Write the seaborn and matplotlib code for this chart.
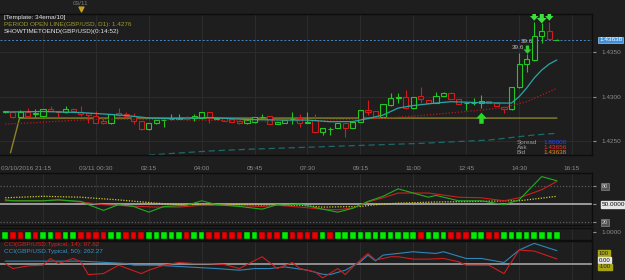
import numpy as np
import pandas as pd
import matplotlib
matplotlib.use("Agg")
import matplotlib.pyplot as plt
import matplotlib.transforms as mtrans
import seaborn as sns

# GBP/USD 15 min bars
bar_open = [
    1.42829, 1.42831, 1.42768, 1.42825, 1.42811, 1.42786, 1.42862, 1.42843, 1.42825, 1.42862,
    1.42831, 1.42813, 1.42786, 1.42727, 1.42701, 1.42813, 1.42806, 1.42786, 1.42730, 1.42637,
    1.42701, 1.42735, 1.42746, 1.42755, 1.42775, 1.42761, 1.42757, 1.42825, 1.42755, 1.42757,
    1.42746, 1.42730, 1.42701, 1.42712, 1.42768, 1.42786, 1.42690, 1.42708, 1.42749, 1.42757,
    1.42708, 1.42738, 1.42607, 1.42634, 1.42645, 1.42701, 1.42645, 1.42719, 1.42850, 1.42843,
    1.42768, 1.42907, 1.42991, 1.43000, 1.42870, 1.43008, 1.42963, 1.42926, 1.43008, 1.43038,
    1.42971, 1.42924, 1.42930, 1.42926, 1.42955, 1.42926, 1.42888, 1.42858, 1.43106, 1.43364,
    1.43413, 1.43682, 1.43738, 1.43636]
bar_high = [
    1.42843, 1.42839, 1.42850, 1.42870, 1.42858, 1.42862, 1.42895, 1.42845, 1.42895, 1.42870,
    1.42895, 1.42822, 1.42843, 1.42772, 1.42811, 1.42870, 1.42828, 1.42813, 1.42732, 1.42704,
    1.42744, 1.42749, 1.42806, 1.42806, 1.42783, 1.42806, 1.42828, 1.42828, 1.42761, 1.42761,
    1.42749, 1.42732, 1.42744, 1.42772, 1.42806, 1.42789, 1.42721, 1.42744, 1.42825, 1.42806,
    1.42831, 1.42806, 1.42648, 1.42663, 1.42704, 1.42704, 1.42721, 1.42856, 1.42963, 1.42845,
    1.42918, 1.43038, 1.43038, 1.43075, 1.43002, 1.43106, 1.42965, 1.43049, 1.43049, 1.43049,
    1.42974, 1.42933, 1.42982, 1.43019, 1.42957, 1.42929, 1.42890, 1.43109, 1.43491, 1.43480,
    1.43843, 1.43832, 1.43843, 1.43645]
bar_low = [
    1.42813, 1.42761, 1.42766, 1.42783, 1.42768, 1.42783, 1.42834, 1.42768, 1.42822, 1.42834,
    1.42783, 1.42708, 1.42704, 1.42693, 1.42699, 1.42789, 1.42777, 1.42690, 1.42631, 1.42631,
    1.42699, 1.42663, 1.42738, 1.42749, 1.42738, 1.42727, 1.42755, 1.42701, 1.42749, 1.42727,
    1.42716, 1.42699, 1.42699, 1.42710, 1.42766, 1.42688, 1.42688, 1.42704, 1.42690, 1.42663,
    1.42701, 1.42603, 1.42570, 1.42570, 1.42643, 1.42550, 1.42643, 1.42716, 1.42794, 1.42766,
    1.42766, 1.42901, 1.42926, 1.42867, 1.42867, 1.42926, 1.42924, 1.42924, 1.43006, 1.42969,
    1.42916, 1.42850, 1.42907, 1.42870, 1.42924, 1.42895, 1.42813, 1.42856, 1.43103, 1.43281,
    1.43407, 1.43607, 1.43643, 1.43635]
bar_close = [
    1.42834, 1.42768, 1.42825, 1.42786, 1.42817, 1.42858, 1.42839, 1.42825, 1.42862, 1.42839,
    1.42806, 1.42794, 1.42708, 1.42704, 1.42806, 1.42794, 1.42783, 1.42730, 1.42634, 1.42701,
    1.42738, 1.42741, 1.42753, 1.42761, 1.42746, 1.42783, 1.42825, 1.42757, 1.42758, 1.42730,
    1.42719, 1.42701, 1.42738, 1.42768, 1.42777, 1.42690, 1.42719, 1.42738, 1.42753, 1.42701,
    1.42712, 1.42607, 1.42645, 1.42637, 1.42701, 1.42645, 1.42719, 1.42850, 1.42831, 1.42768,
    1.42915, 1.42982, 1.42994, 1.42870, 1.43000, 1.42971, 1.42926, 1.43008, 1.43038, 1.42971,
    1.42918, 1.42927, 1.42934, 1.42955, 1.42926, 1.42899, 1.42858, 1.43106, 1.43364, 1.43424,
    1.43682, 1.43738, 1.43645, 1.43638]

tick_idx = [5, 12, 19, 26, 33, 40, 47, 54, 61, 68, 75]
tick_lbl = ["03/10/2016 21:15", "03/11 00:30", "02:15", "04:00", "05:45", "07:30",
            "09:15", "11:00", "12:45", "14:30", "16:15"]
price_ticks = [1.4250, 1.4300, 1.4350]
last_price = 1.43638
period_open = 1.4276

# 34 ema (teal), slow ma (red dotted), long ma (dark teal dashed), period open line
ema_idx = [0, 5, 10, 13, 16, 19, 22, 27, 32, 37, 40, 43, 46, 48, 50, 52, 54, 57, 59, 63,
           66, 67, 68, 69, 70, 71, 72, 73]
ema_val = [1.42828, 1.42834, 1.42822, 1.42806, 1.42789, 1.42761, 1.42755, 1.42766, 1.42744,
           1.42738, 1.42738, 1.42719, 1.42721, 1.42755, 1.42794, 1.42873, 1.42901, 1.42929,
           1.42944, 1.42933, 1.42929, 1.42929, 1.43000, 1.43098, 1.43210, 1.43300, 1.43368,
           1.43413]
slow_idx = [0, 4, 8, 12, 17, 25, 33, 39, 43, 50, 57, 63, 66, 69, 73]
slow_val = [1.42693, 1.42708, 1.42730, 1.42746, 1.42746, 1.42738, 1.42727, 1.42727, 1.42738,
            1.42757, 1.42802, 1.42850, 1.42879, 1.42944, 1.43094]
long_idx = [19, 27, 32, 42, 55, 64, 70, 73]
long_val = [1.42345, 1.42390, 1.42409, 1.42438, 1.42476, 1.42513, 1.42570, 1.42589]
pol_idx = [0.7, 1.9, 73]
pol_val = [1.42370, period_open, period_open]

# signal arrows
up_idx = [63]
up_val = [1.42761]
down_idx = [69, 70, 71, 72]
down_val = [1.43536, 1.43907, 1.43885, 1.43907]
lbl_idx = [67.9, 69.0]
lbl_val = [1.43553, 1.43626]

# oscillator panel
grn_idx = [0, 1, 5, 7, 10, 11, 13, 15, 17, 19, 21, 24, 26, 28, 31, 34, 36, 37, 39, 42,
           44, 46, 48, 50, 52, 54, 56, 57, 60, 63, 66, 68, 71, 73]
grn_val = [57, 55.5, 55.5, 57, 54.5, 49, 39.5, 49, 46, 36.5, 46, 48, 55.5, 49, 46, 41.5, 49,
           48, 50, 41.5, 36.5, 43, 54.5, 63, 75.5, 68.5, 61.5, 64.5, 55.5, 55.5, 49, 57, 96, 89]
red_idx = [0, 5, 7, 10, 13, 18, 20, 23, 26, 29, 34, 36, 39, 42, 44, 46, 48, 50, 52, 54,
           56, 60, 63, 66, 68, 71, 73]
red_val = [55.5, 55.5, 57, 53.5, 49, 46, 45, 45, 48, 48, 46, 48, 45, 41.5, 40.5, 43.5, 53.5,
           60.5, 68.5, 68.5, 68.5, 61.5, 60.5, 55.5, 60.5, 74, 88]
yel_idx = [0, 5, 10, 15, 20, 23, 28, 31, 36, 39, 42, 47, 49, 52, 57, 63, 66, 68, 73]
yel_val = [60.5, 63, 61.5, 57, 51.5, 49, 49, 49, 48, 48, 45, 46, 49, 51.5, 53.5, 54.5, 55.5,
           55.5, 63]

# signal squares, one per bar
squares = ("GRRGRGGRGG" "RRRRGGRRRG" "GGGGRGGRRR" "RRGGRRRGRR"
           "RRGRGGGGGG" "GGGGGRGGGR" "RRGGRRGGGG" "GGGG")

# CCI panel
bcci_idx = [0, 10, 16, 17, 20, 24, 28, 31, 33, 35, 37, 40, 42, 43, 45, 47, 48, 49, 50, 52,
            54, 55, 57, 58, 61, 63, 66, 68, 70, 73]
bcci_val = [54, 54, 7, -26, -26, -60, -93, -126, -93, -93, -60, -126, -206, -213, -126, 41,
            174, 60, 174, 207, 241, 227, 207, 241, 107, 107, 27, 274, 407, 262.27]
rcci_idx = [0, 1, 3, 5, 6, 7, 9, 10, 11, 13, 15, 18, 19, 21, 23, 25, 27, 29, 31, 32,
            34, 36, 38, 39, 41, 42, 44, 45, 46, 48, 49, 51, 52, 54, 56, 58, 60, 61, 64, 66,
            68, 70, 73]
rcci_val = [7, -93, -40, -26, 107, 7, 107, 41, -213, -193, -26, -193, -126, -26, 27, 7, 7,
            -13, -93, -13, 141, -93, 27, -93, -160, -280, -93, -213, -60, 207, 74, 141, 141,
            94, 94, 107, 41, -26, -26, -193, 274, 254, 97.62]

BG = "#1e1e1e"
GREEN = "#22c822"
RED = "#d41a1a"
GRID = "#2c2c2c"
TXT = "#8c8c8c"
FS = 4.6

sns.set_style("dark", {"axes.facecolor": BG, "figure.facecolor": BG,
                       "grid.color": GRID, "axes.edgecolor": "#0f0f0f"})
plt.rcParams["font.family"] = ["Liberation Sans", "DejaVu Sans"]
plt.rcParams["font.size"] = FS

W, H = 625, 280
fig = plt.figure(figsize=(6.25, 2.8), dpi=100, facecolor=BG)


def box(l, t, r, b):
    return [l / W, 1 - b / H, (r - l) / W, (b - t) / H]


ax = fig.add_axes(box(0, 14, 592, 155))
ax_osc = fig.add_axes(box(0, 173, 592, 225), sharex=ax)
ax_sq = fig.add_axes(box(0, 228, 592, 240), sharex=ax)
ax_cci = fig.add_axes(box(0, 241, 592, 282), sharex=ax)

for a in (ax, ax_osc, ax_sq, ax_cci):
    a.set_facecolor(BG)
    for s in a.spines.values():
        s.set_color("#0d0d0d")
        s.set_linewidth(1.0)
    a.spines["left"].set_visible(False)
    a.grid(True, axis="x", color=GRID, lw=0.7)
    a.yaxis.tick_right()
    a.tick_params(axis="y", colors=TXT, labelsize=FS, length=3, pad=4, direction="out")

# ---- candles ----
df = pd.DataFrame({"o": bar_open, "h": bar_high, "l": bar_low, "c": bar_close})
df["i"] = np.arange(len(df))
col = np.where(df["c"] >= df["o"], GREEN, RED)
ax.vlines(df["i"], df["l"], df["h"], colors=col, lw=0.8, zorder=3)
body = (df["c"] - df["o"]).abs().clip(lower=0.00002)
ax.bar(df["i"], body, bottom=df[["o", "c"]].min(axis=1), width=0.68,
       facecolor=BG, edgecolor=col, linewidth=0.8, zorder=4)

sns.lineplot(x=long_idx, y=long_val, ax=ax, color="#1d6a6a", lw=0.9,
             linestyle=(0, (5, 3)), zorder=2)
sns.lineplot(x=pol_idx, y=pol_val, ax=ax, color="#8a8428", lw=1.0, zorder=2)
sns.lineplot(x=slow_idx, y=slow_val, ax=ax, color="#b81818", lw=0.9,
             linestyle=(0, (1, 1.5)), zorder=5)
sns.lineplot(x=ema_idx, y=ema_val, ax=ax, color="#2aa6a6", lw=0.9, zorder=5)
ax.axhline(last_price, color="#4d86c8", lw=0.7, ls=(0, (2, 2)), zorder=2)

up_arrow = [(-1, 0), (0, 1.1), (1, 0), (0.42, 0), (0.42, -1), (-0.42, -1), (-0.42, 0), (-1, 0)]
down_arrow = [(x, -y) for x, y in up_arrow]
ax.scatter(up_idx, up_val, marker=up_arrow, s=70, color="#27d827", zorder=7, linewidths=0)
ax.scatter(down_idx[1:], down_val[1:], marker=down_arrow, s=[45, 60, 45],
           color="#3ee03e", zorder=7, linewidths=0)
ax.scatter(down_idx[:1], down_val[:1], marker=down_arrow, s=40, color="#33cc33",
           zorder=7, linewidths=0)
for xi, yi in zip(lbl_idx, lbl_val):
    ax.text(xi, yi, "39.6", color="#bbbbbb", fontsize=FS, ha="center", va="center", zorder=8)

ax.set_xlim(-0.69, 77.65)
ax.set_ylim(1.42345, 1.4393)
ax.set_yticks(price_ticks, [f"{v:.4f}" for v in price_ticks])
ax.grid(True, axis="y", color=GRID, lw=0.7)
ax.set_xticks(tick_idx, tick_lbl)
ax.set_xticks(np.arange(0, 78), minor=True)
ax.tick_params(axis="x", which="major", colors=TXT, labelsize=FS, length=3,
               pad=5, direction="out")
ax.tick_params(axis="x", which="minor", colors="#4a4a4a", length=2, direction="out")
# first time label is pushed right so it starts at the chart edge
first = ax.get_xticklabels()[0]
first.set_ha("left")
first.set_transform(first.get_transform()
                    + mtrans.ScaledTranslation(-0.42, 0, fig.dpi_scale_trans))

yblend = mtrans.blended_transform_factory(ax.transAxes, ax.transData)
ax.text(1.0 + 7 / 592, last_price, f"{last_price:.5f}", transform=yblend, fontsize=FS,
        color="white", va="center", ha="left",
        bbox=dict(boxstyle="square,pad=0.15", fc="#3c8fd8", ec="#9cc8f0", lw=0.5))

xblend = mtrans.blended_transform_factory(ax.transData, ax.transAxes)
ax.text(10, 1.075, "03/11", transform=xblend, color="#7a7a7a", fontsize=FS,
        ha="center", va="center", clip_on=False)
ax.scatter([10], [1.035], transform=xblend, marker="v", s=12, color="#c8a020",
           clip_on=False, zorder=8)

ax.text(0.007, 0.978, "[Template: 34ema/10]", transform=ax.transAxes, color="#e6e6e6",
        fontsize=FS, va="center")
ax.text(0.007, 0.928, "PERIOD OPEN LINE(GBP/USD, D1): 1.4276", transform=ax.transAxes,
        color="#9c9a2c", fontsize=FS, va="center")
ax.text(0.007, 0.878, "SHOWTIMETOEND(GBP/USD)(0:14:52)", transform=ax.transAxes,
        color="#e6e6e6", fontsize=FS, va="center")

for yy, lab, val, c in [(0.088, "Spread", "1.80000", "#2a48ff"),
                        (0.053, "Ask", "1.43656", "#ff2a2a"),
                        (0.018, "Bid", "1.43638", "#e88a20")]:
    ax.text(0.873, yy, lab, transform=ax.transAxes, color="#9a9a9a", fontsize=FS, va="center")
    ax.text(0.918, yy, val, transform=ax.transAxes, color=c, fontsize=FS, va="center")

# ---- oscillator ----
ax_osc.axhline(80, color="#5a5a5a", lw=0.9, ls=(0, (1, 1.5)))
ax_osc.axhline(20, color="#5a5a5a", lw=0.9, ls=(0, (1, 1.5)))
ax_osc.axhline(50, color="#bdbdbd", lw=1.1)
sns.lineplot(x=yel_idx, y=yel_val, ax=ax_osc, color="#cccc2a", lw=0.9,
             linestyle=(0, (1, 1.2)))
sns.lineplot(x=red_idx, y=red_val, ax=ax_osc, color="#cc1e1e", lw=0.8)
sns.lineplot(x=grn_idx, y=grn_val, ax=ax_osc, color="#1fae1f", lw=0.8)
ax_osc.set_ylim(15, 102)
ax_osc.set_yticks([20, 50, 80], ["20", "50.0000", "80"])
for t, lab in zip(ax_osc.get_yticklabels(), ["20", "50.0000", "80"]):
    if lab == "50.0000":
        t.set_color("#111111")
        t.set_bbox(dict(boxstyle="square,pad=0.15", fc="#e6e6e6", ec="#e6e6e6"))
    else:
        t.set_color("#cfcfcf")
        t.set_fontsize(4)
        t.set_bbox(dict(boxstyle="square,pad=0.15", fc="#555555", ec="#999999", lw=0.4))

# ---- squares ----
sq_col = ["#00ee00" if s == "G" else "#ee0000" for s in squares]
ax_sq.bar(np.arange(len(squares)), 1, width=0.74, color=sq_col, edgecolor="#101010", lw=0.3)
ax_sq.set_ylim(-0.12, 1.5)
ax_sq.set_yticks([1.0], ["1.0000"])

# ---- CCI ----
ax_cci.axhline(0, color="#8f8f8f", lw=1.4)
sns.lineplot(x=bcci_idx, y=bcci_val, ax=ax_cci, color="#2f86ba", lw=0.8)
sns.lineplot(x=rcci_idx, y=rcci_val, ax=ax_cci, color="#cc1e1e", lw=0.8)
ax_cci.set_ylim(-360, 454)
ax_cci.set_yticks([])
ax_cci.text(0.007, 0.92, "CCI(GBP/USD.Typical, 14): 97.62", transform=ax_cci.transAxes,
            color="#d42020", fontsize=FS, va="center")
ax_cci.text(0.007, 0.75, "CCI(GBP/USD.Typical, 50): 262.27", transform=ax_cci.transAxes,
            color="#3a90c4", fontsize=FS, va="center")
for yy, lab, fc, tc in [(0.69, "100", "#a8a418", "#222222"),
                        (0.53, "0.00", "#e6e6e6", "#111111"),
                        (0.37, "-100", "#a8a418", "#222222")]:
    ax_cci.text(1.0 + 7 / 592, yy, lab, transform=ax_cci.transAxes, color=tc, fontsize=4.3,
                va="center", ha="left", clip_on=False,
                bbox=dict(boxstyle="square,pad=0.12", fc=fc, ec=fc))

for a in (ax_osc, ax_sq, ax_cci):
    a.tick_params(axis="x", which="both", labelbottom=False, length=0)
    a.set_xlabel("")
    a.set_ylabel("")
ax.set_xlabel("")
ax.set_ylabel("")

fig.savefig("out.png", dpi=100, facecolor=BG)
